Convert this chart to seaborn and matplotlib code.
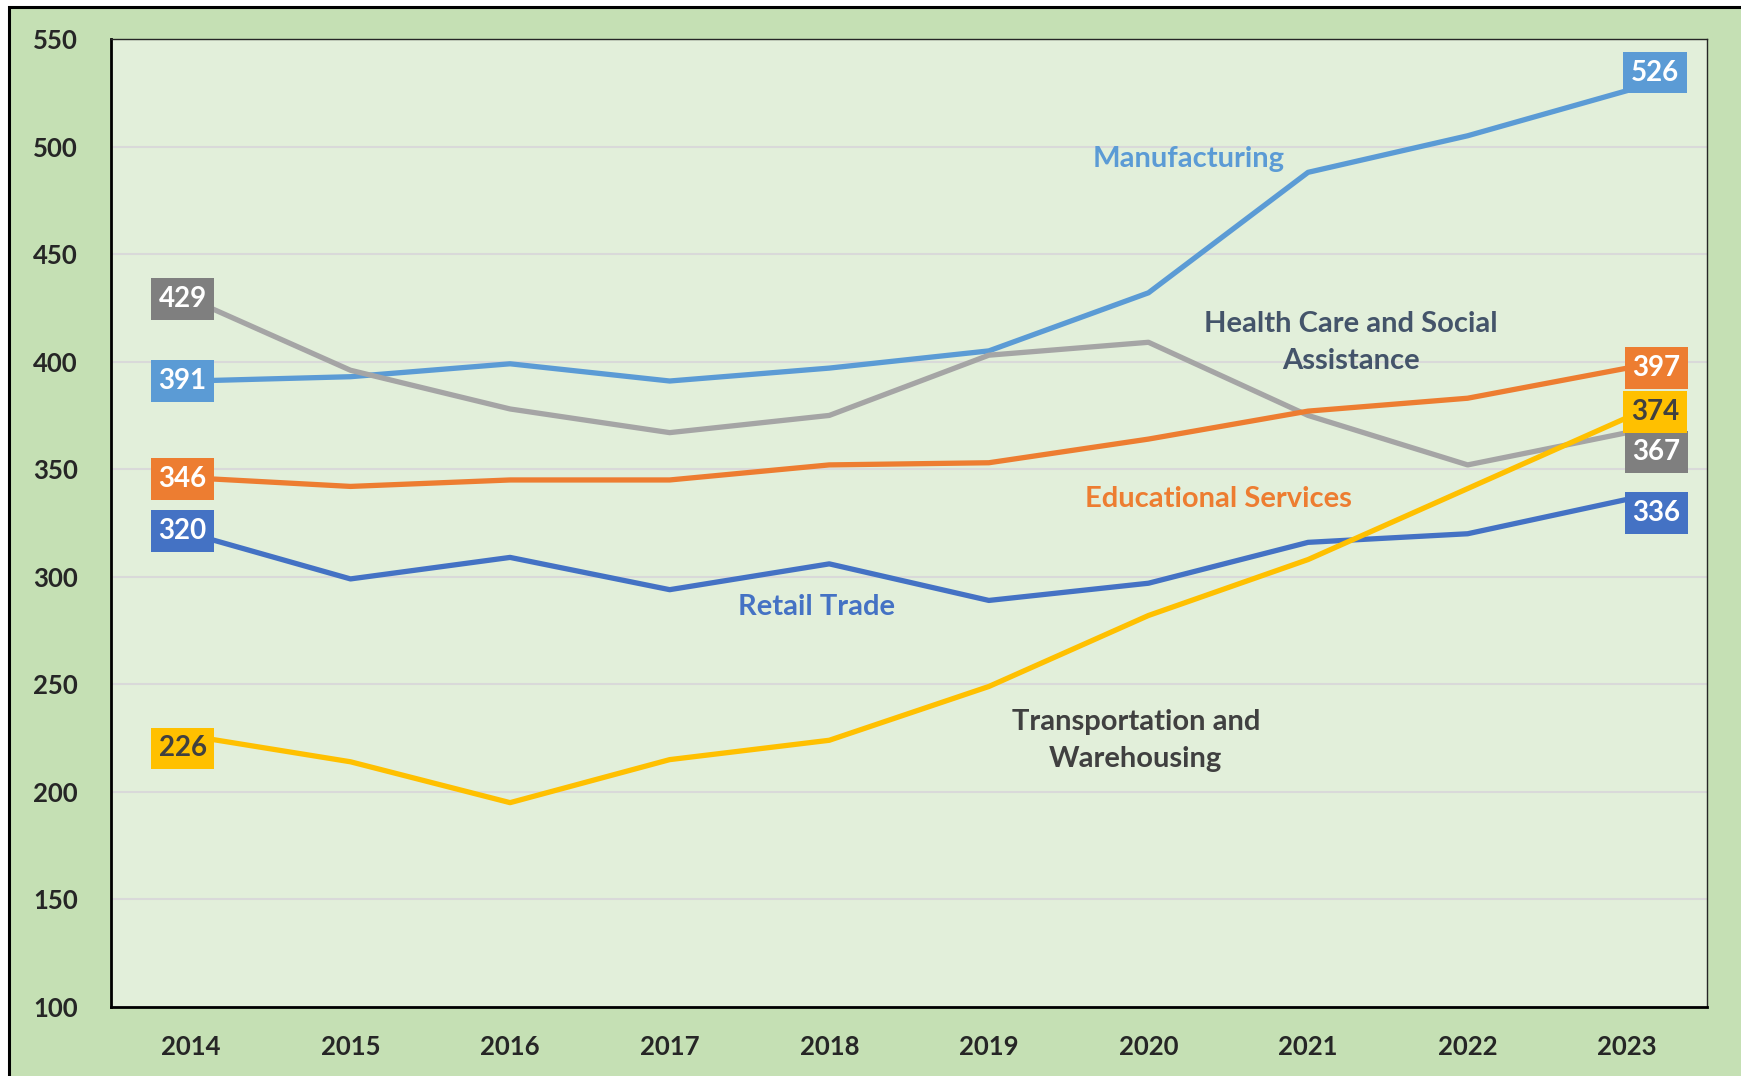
import numpy as np
import pandas as pd
import seaborn as sns
import matplotlib.pyplot as plt
from matplotlib.patches import Rectangle

years = [2014, 2015, 2016, 2017, 2018, 2019, 2020, 2021, 2022, 2023]

manufacturing = [391, 393, 399, 391, 397, 405, 432, 488, 505, 526]
health_care = [429, 396, 378, 367, 375, 403, 409, 375, 352, 367]
educational = [346, 342, 345, 345, 352, 353, 364, 377, 383, 397]
retail = [320, 299, 309, 294, 306, 289, 297, 316, 320, 336]
transport = [226, 214, 195, 215, 224, 249, 282, 308, 341, 374]

series_names = ["Manufacturing", "Health Care and Social\nAssistance",
                "Educational Services", "Retail Trade",
                "Transportation and\nWarehousing"]
series_values = [manufacturing, health_care, educational, retail, transport]
line_colors = ["#5b9bd5", "#a5a5a5", "#ed7d31", "#4472c4", "#ffc000"]
box_colors = ["#5b9bd5", "#7f7f7f", "#ed7d31", "#4472c4", "#ffc000"]
box_text = ["white", "white", "white", "white", "#404040"]
name_colors = ["#5b9bd5", "#44546a", "#ed7d31", "#4472c4", "#404040"]
name_pos = [(2020.25, 494), (2021.27, 409), (2020.44, 336), (2017.92, 286), (2019.92, 224)]
# label nudges (points) for start / end boxes
start_off = [(-6, 0), (-6, 0), (-6, -1), (-6, 2), (-6, -9)]
end_off = [(20, 13), (21, -14), (21, 0), (21, -10), (20, 4)]

df = pd.DataFrame({
    "year": years * len(series_names),
    "value": sum(series_values, []),
    "series": np.repeat(series_names, len(years)),
})

sns.set_style("white")
plt.rcParams["font.family"] = ["Lato", "DejaVu Sans"]
plt.rcParams["font.weight"] = "bold"

fig = plt.figure(figsize=(17.41, 10.76), dpi=100, facecolor="white")
fig.patches.append(Rectangle((0.005, -0.01), 1.0, 1 - 0.0065 + 0.01,
                             transform=fig.transFigure, facecolor="#c5e0b4",
                             edgecolor="black", linewidth=2.2, zorder=-10))
ax = fig.add_axes([0.0638, 0.0641, 0.9805 - 0.0638, 0.9638 - 0.0641])
ax.set_facecolor("#e2efda")

sns.lineplot(data=df, x="year", y="value", hue="series", hue_order=series_names,
             palette=dict(zip(series_names, line_colors)), linewidth=3.8,
             legend=False, ax=ax, sort=False)

for i, name in enumerate(series_names):
    vals = series_values[i]
    for idx, off in [(0, start_off[i]), (-1, end_off[i])]:
        ax.annotate(str(vals[idx]), (years[idx], vals[idx]), xytext=off,
                    textcoords="offset points", ha="center", va="center",
                    fontsize=20, fontweight="bold", color=box_text[i], zorder=5,
                    bbox=dict(boxstyle="square,pad=0.28", fc=box_colors[i], ec="none"))
    ax.text(name_pos[i][0], name_pos[i][1], name, ha="center", va="center",
            fontsize=21, fontweight="bold", color=name_colors[i],
            linespacing=1.5, zorder=4)

ax.set_xlim(2013.5, 2023.5)
ax.set_ylim(100, 550)
ax.set_xticks(years)
ax.set_yticks(range(100, 551, 50))
ax.yaxis.grid(True, color="#d9d9d9", linewidth=1.5)
ax.set_axisbelow(True)
ax.tick_params(axis="both", length=0, labelsize=18.5)
ax.tick_params(axis="y", pad=24)
ax.tick_params(axis="x", pad=20)
for lab in ax.get_xticklabels() + ax.get_yticklabels():
    lab.set_fontweight("bold")
ax.set_xlabel("")
ax.set_ylabel("")
for side in ["left", "bottom"]:
    ax.spines[side].set_color("black")
    ax.spines[side].set_linewidth(2)
for side in ["top", "right"]:
    ax.spines[side].set_color("#262626")
    ax.spines[side].set_linewidth(1)

plt.savefig("out.png", dpi=100, facecolor=fig.get_facecolor())
